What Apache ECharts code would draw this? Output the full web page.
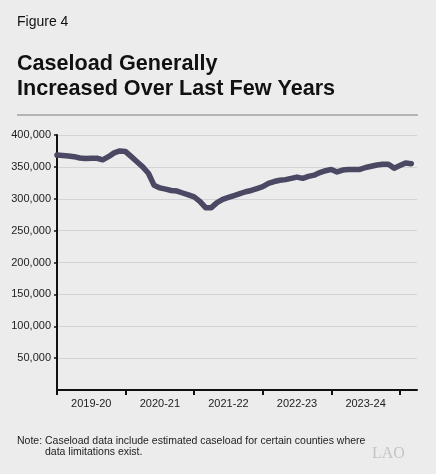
<!DOCTYPE html>
<html>
<head>
<meta charset="utf-8">
<script src="https://cdn.jsdelivr.net/npm/echarts@6/dist/echarts.min.js"></script>
<style>
html,body{margin:0;padding:0;background:#ececec;}
#c{width:436px;height:474px;}
</style>
</head>
<body>
<div id="c"></div>
<script>
// Monthly caseload, July 2019 onward
const caseload = [
  368500, 368000, 367000, 366000, 364000, 363000, 363500, 363500, 361000, 366000,
  372000, 375000, 374000, 366000, 358000, 350000, 340000, 321000, 317000, 315000,
  313000, 312000, 309000, 306000, 303000, 296000, 286000, 286000, 294000, 299000,
  302000, 305000, 308000, 311000, 313000, 316000, 319000, 324000, 327000, 329000,
  330000, 332000, 334000, 332000, 335000, 337000, 341000, 344000, 346000, 342000,
  345000, 346000, 346000, 346000, 349000, 351000, 353000, 354000, 354000, 348000,
  352000, 356000, 355000
];
const yearLabels = ['2019-20', '2020-21', '2021-22', '2022-23', '2023-24'];
const yearStartMonths = [0, 12, 24, 36, 48, 60];
const yearMidMonths = [6, 18, 30, 42, 54];

const FONT = '"Liberation Sans", Arial, sans-serif';
const chart = echarts.init(document.getElementById('c'), null, {renderer: 'canvas'});

chart.setOption({
  backgroundColor: '#ececec',
  animation: false,
  grid: {left: 57, right: 19, top: 135, bottom: 84, containLabel: false},
  xAxis: {
    type: 'value', min: 0, max: 63,
    axisLine: {show: true, lineStyle: {color: '#111', width: 2}},
    axisTick: {show: true, customValues: yearStartMonths, length: 5, lineStyle: {color: '#111', width: 2}},
    axisLabel: {
      show: true, customValues: yearMidMonths, color: '#222', fontFamily: FONT, fontSize: 11, margin: 8,
      formatter: function (v) { const k = yearMidMonths.indexOf(Math.round(v)); return k >= 0 ? yearLabels[k] : ''; }
    },
    splitLine: {show: false}
  },
  yAxis: {
    type: 'value', min: 0, max: 400000, interval: 50000,
    axisLine: {show: true, lineStyle: {color: '#111', width: 2}},
    axisTick: {show: true, length: 3, lineStyle: {color: '#111', width: 1.5}},
    axisLabel: {
      color: '#222', fontFamily: FONT, fontSize: 11, margin: 6, showMinLabel: false,
      formatter: function (v) { return v === 0 ? '' : v.toLocaleString('en-US'); }
    },
    splitLine: {show: true, lineStyle: {color: '#d4d4d4', width: 1}}
  },
  series: [{
    type: 'line',
    data: caseload.map(function (v, i) { return [i, v]; }),
    showSymbol: false,
    lineStyle: {color: '#4a4862', width: 5.5, cap: 'round', join: 'round'},
    z: 5
  }],
  graphic: [
    {type: 'text', left: 17, top: 15, style: {text: 'Figure 4', font: '14px ' + FONT, fill: '#111'}},
    {type: 'text', left: 17, top: 53, style: {text: 'Caseload Generally', font: 'bold 21.6px ' + FONT, fill: '#111'}},
    {type: 'text', left: 17, top: 78, style: {text: 'Increased Over Last Few Years', font: 'bold 21.6px ' + FONT, fill: '#111'}},
    {type: 'rect', left: 17, top: 114, shape: {width: 401, height: 2}, style: {fill: '#b5b5b5'}},
    {type: 'text', left: 17, top: 436, style: {text: 'Note: Caseload data include estimated caseload for certain counties where', font: '10.5px ' + FONT, fill: '#222'}},
    {type: 'text', left: 45, top: 447, style: {text: 'data limitations exist.', font: '10.5px ' + FONT, fill: '#222'}},
    {type: 'text', left: 372, top: 446, style: {text: 'LAO', font: '16px "Liberation Serif", "DejaVu Serif", serif', fill: '#c4c4c4'}}
  ]
});
</script>
</body>
</html>
